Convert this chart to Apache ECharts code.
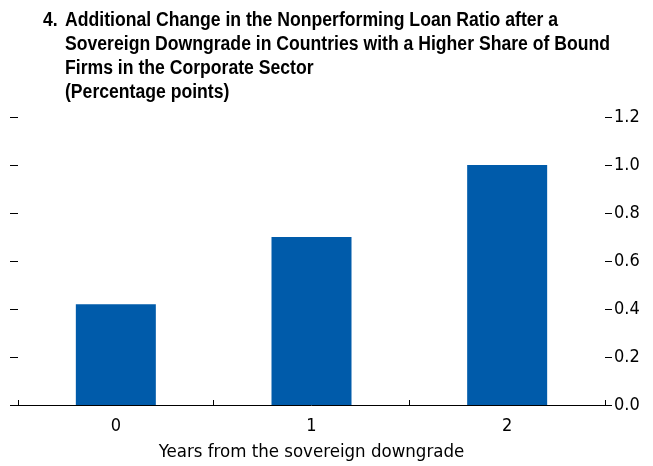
<!DOCTYPE html>
<html><head><meta charset="utf-8">
<script src="https://cdn.jsdelivr.net/npm/echarts@6/dist/echarts.min.js"></script>
<style>html,body{margin:0;padding:0;background:#fff}#c{width:653px;height:466px}</style>
</head><body><div id="c"></div>
<script>
const categories = ['0', '1', '2'];
const values = [0.42, 0.70, 1.00];
const yTicks = [0, 0.2, 0.4, 0.6, 0.8, 1.0, 1.2];
const titleNumber = '4.';
const titleLines = [
  'Additional Change in the Nonperforming Loan Ratio after a',
  'Sovereign Downgrade in Countries with a Higher Share of Bound',
  'Firms in the Corporate Sector',
  '(Percentage points)'
];
const xName = 'Years from the sovereign downgrade';

const TFONT = '"Liberation Sans", Arial, sans-serif';
const FONT = '"DejaVu Sans Condensed", "Liberation Sans", Arial, sans-serif';
const chart = echarts.init(document.getElementById('c'), null, {renderer: 'canvas'});
const yMin = yTicks[0], yMax = yTicks[yTicks.length - 1], yStep = yTicks[1] - yTicks[0];

// horizontal condensing of the title to mimic a condensed bold face
const ctx = document.createElement('canvas').getContext('2d');
ctx.font = 'bold 20px ' + TFONT;
const sx = 545 / ctx.measureText(titleLines[1]).width;

const titleGraphics = [{
  type: 'text', x: 43, y: 20, scaleX: sx, originX: 0,
  style: {text: titleNumber, font: 'bold 20px ' + TFONT, fill: '#000', verticalAlign: 'middle'}
}].concat(titleLines.map((t, i) => ({
  type: 'text', x: 65, y: 20 + 24 * i, scaleX: sx, originX: 0,
  style: {text: t, font: 'bold 20px ' + TFONT, fill: '#000', verticalAlign: 'middle'}
})));

chart.setOption({
  animation: false,
  graphic: titleGraphics,
  grid: {left: 18, right: 48, top: 117, bottom: 61, containLabel: false, outerBoundsMode: 'none'},
  xAxis: {
    type: 'category', data: categories, boundaryGap: true,
    axisLine: {show: true, lineStyle: {color: '#000', width: 1}},
    axisTick: {show: true, inside: true, length: 5, alignWithLabel: false, lineStyle: {color: '#000'}},
    axisLabel: {fontFamily: FONT, fontSize: 18, color: '#000', margin: 12},
    name: xName, nameLocation: 'middle', nameGap: 38,
    nameTextStyle: {fontFamily: FONT, fontSize: 18.5, color: '#000'}
  },
  yAxis: [
    {
      type: 'value', position: 'right', min: yMin, max: yMax, interval: yStep,
      axisLine: {show: false}, splitLine: {show: false},
      axisTick: {show: true, inside: false, length: 7, lineStyle: {color: '#000'}},
      axisLabel: {fontFamily: FONT, fontSize: 18, color: '#000', margin: 9, formatter: v => v.toFixed(1)}
    },
    {
      type: 'value', position: 'left', min: yMin, max: yMax, interval: yStep,
      axisLine: {show: false}, splitLine: {show: false},
      axisTick: {show: true, inside: false, length: 8, lineStyle: {color: '#000'}},
      axisLabel: {show: false}
    }
  ],
  series: [{
    type: 'bar', data: values, yAxisIndex: 0, barWidth: 80,
    itemStyle: {color: '#005BAA'}
  }]
});
</script></body></html>
